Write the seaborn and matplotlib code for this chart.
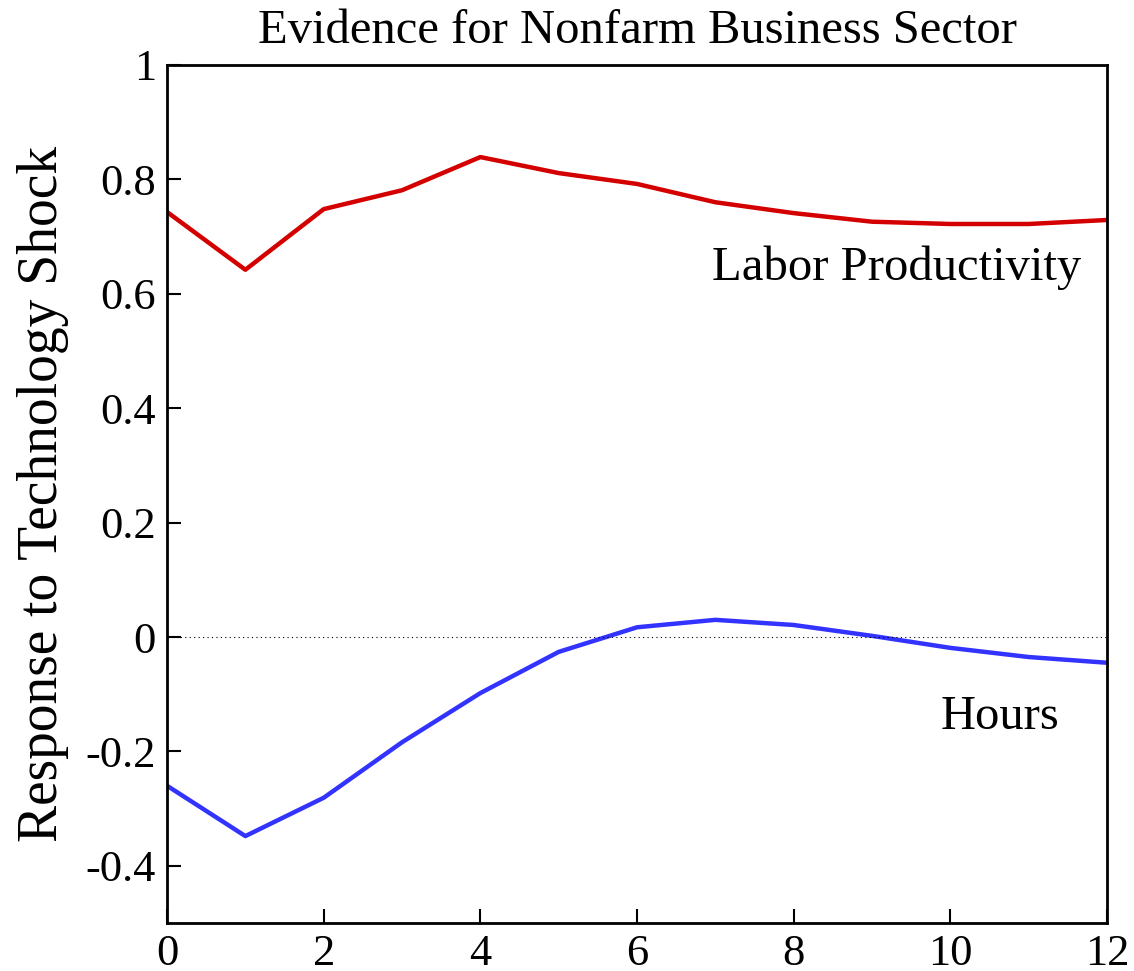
import numpy as np
import pandas as pd
import seaborn as sns
from matplotlib import pyplot as plt

quarters = list(range(13))
labor_productivity = [0.743, 0.642, 0.748, 0.781, 0.839, 0.811, 0.792, 0.760, 0.741, 0.726, 0.722, 0.722, 0.729]
hours = [-0.260, -0.348, -0.281, -0.184, -0.098, -0.026, 0.017, 0.030, 0.021, 0.002, -0.019, -0.035, -0.045]
x_ticks = [0, 2, 4, 6, 8, 10, 12]
y_ticks = [-0.4, -0.2, 0, 0.2, 0.4, 0.6, 0.8, 1]
y_tick_labels = ["-0.4", "-0.2", "0", "0.2", "0.4", "0.6", "0.8", "1"]

sns.set_style("ticks")
plt.rcParams["font.family"] = ["Liberation Serif", "DejaVu Serif"]
plt.rcParams["text.color"] = "black"
plt.rcParams["axes.labelcolor"] = "black"
plt.rcParams["xtick.color"] = "black"
plt.rcParams["ytick.color"] = "black"

data = pd.DataFrame({
    "quarter": quarters * 2,
    "response": labor_productivity + hours,
    "series": ["Labor Productivity"] * len(quarters) + ["Hours"] * len(quarters),
})

fig = plt.figure(figsize=(11.34, 9.71), dpi=100)
ax = fig.add_axes([0.1473, 0.0494, 0.8289, 0.8837])

sns.lineplot(data=data, x="quarter", y="response", hue="series",
             palette={"Labor Productivity": "#d40000", "Hours": "#3333ff"},
             linewidth=3.2, legend=False, ax=ax)
ax.axhline(0, color="black", linestyle=(0, (1, 3)), linewidth=0.8)

ax.set_xlim(0, 12)
ax.set_ylim(-0.5, 1)
ax.set_xticks(x_ticks)
ax.set_xticklabels([str(t) for t in x_ticks])
ax.set_yticks(y_ticks)
ax.set_yticklabels(y_tick_labels)
ax.tick_params(direction="in", length=10, width=1.5, labelsize=32, pad=8)
for spine in ax.spines.values():
    spine.set_linewidth(2)
    spine.set_color("black")

ax.set_xlabel("")
ax.set_ylabel("Response to Technology Shock", fontsize=40, labelpad=12)
ax.set_title("Evidence for Nonfarm Business Sector", fontsize=35, pad=16)

ax.text(9.32, 0.645, "Labor Productivity", fontsize=35, ha="center", va="center")
ax.text(10.63, -0.14, "Hours", fontsize=35, ha="center", va="center")

fig.savefig("out.png", dpi=100)
